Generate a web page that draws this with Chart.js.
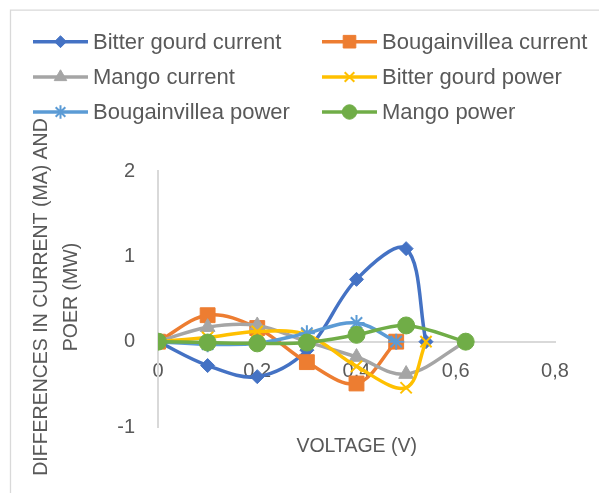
<!DOCTYPE html>
<html>
<head>
<meta charset="utf-8">
<script src="https://cdn.jsdelivr.net/npm/chart.js@4/dist/chart.umd.min.js"></script>
<style>
  html, body { margin: 0; padding: 0; background: #ffffff; }
  #wrap { position: relative; width: 599px; height: 493px; }
</style>
</head>
<body>
<div id="wrap"><canvas id="c" width="599" height="493"></canvas></div>
<script>
// ---- data ----
const seriesNames = ['Bitter gourd current', 'Bougainvillea current', 'Mango current',
                     'Bitter gourd power', 'Bougainvillea power', 'Mango power'];
const voltsBitterGourd   = [0, 0.1, 0.2, 0.3, 0.4, 0.5, 0.54];
const voltsBougainvillea = [0, 0.1, 0.2, 0.3, 0.4, 0.48];
const voltsMango         = [0, 0.1, 0.2, 0.3, 0.4, 0.5, 0.62];

const bitterGourdCurrent   = [0, -0.28, -0.41, -0.1, 0.73, 1.09, 0];
const bougainvilleaCurrent = [0, 0.31, 0.16, -0.24, -0.49, 0];
const mangoCurrent         = [0, 0.17, 0.19, 0, -0.18, -0.38, 0];
const bitterGourdPower     = [0, 0.05, 0.12, 0.08, -0.29, -0.54, 0];
const bougainvilleaPower   = [0, -0.03, -0.02, 0.1, 0.22, 0];
const mangoPower           = [0, -0.01, -0.02, -0.01, 0.08, 0.19, 0];

const xTickValues = [0, 0.2, 0.4, 0.6, 0.8];
const xTickLabels = ['0', '0,2', '0,4', '0,6', '0,8'];
const yTickValues = [-1, 0, 1, 2];
const yTickLabels = ['-1', '0', '1', '2'];

const xTitle = 'VOLTAGE (V)';
const yTitleLines = ['DIFFERENCES IN CURRENT (MA) AND', 'POER (MW)'];

// ---- styling ----
const colors = ['#4472C4', '#ED7D31', '#A5A5A5', '#FFC000', '#5B9BD5', '#70AD47'];
const markers = ['rectRot', 'rect', 'triangle', 'crossRot', 'star', 'circle'];
const markerRadius = [7, 10.5, 8.5, 8, 8, 8.5];
const FONT = '"Liberation Sans", Arial, sans-serif';
const TEXT = '#595959';
const AXIS = '#D9D9D9';

function pts(xs, ys) { return xs.map((x, i) => ({ x: x, y: ys[i] })); }
const seriesData = [
  pts(voltsBitterGourd, bitterGourdCurrent),
  pts(voltsBougainvillea, bougainvilleaCurrent),
  pts(voltsMango, mangoCurrent),
  pts(voltsBitterGourd, bitterGourdPower),
  pts(voltsBougainvillea, bougainvilleaPower),
  pts(voltsMango, mangoPower)
];

const datasets = seriesData.map((d, i) => ({
  label: seriesNames[i],
  data: d,
  showLine: true,
  tension: 0.35,
  borderColor: colors[i],
  backgroundColor: colors[i],
  borderWidth: 3.5,
  pointStyle: markers[i],
  pointRadius: markerRadius[i],
  pointHoverRadius: markerRadius[i],
  pointBackgroundColor: colors[i],
  pointBorderColor: colors[i],
  pointBorderWidth: (markers[i] === 'crossRot' || markers[i] === 'star') ? 2 : 1,
  order: seriesNames.length - i
}));

// custom legend, titles and frame
const decor = {
  id: 'decor',
  afterDraw(chart) {
    const ctx = chart.ctx;
    ctx.save();
    // outer frame (top + left visible)
    ctx.strokeStyle = AXIS;
    ctx.lineWidth = 1.3;
    ctx.beginPath();
    ctx.moveTo(10.5, 600);
    ctx.lineTo(10.5, 10.2);
    ctx.lineTo(700, 10.2);
    ctx.stroke();

    // legend
    const colX = [33, 322];
    const rowY = [41.7, 77, 112];
    ctx.font = '22px ' + FONT;
    ctx.textBaseline = 'middle';
    ctx.textAlign = 'left';
    chart.data.datasets.forEach((ds, i) => {
      const x0 = colX[i % 2];
      const y0 = rowY[Math.floor(i / 2)];
      ctx.strokeStyle = ds.borderColor;
      ctx.lineWidth = 3.5;
      ctx.lineCap = 'butt';
      ctx.beginPath();
      ctx.moveTo(x0, y0);
      ctx.lineTo(x0 + 55, y0);
      ctx.stroke();
      ctx.fillStyle = ds.pointBackgroundColor;
      ctx.strokeStyle = ds.pointBorderColor;
      ctx.lineWidth = ds.pointBorderWidth;
      Chart.helpers.drawPoint(ctx, {
        pointStyle: ds.pointStyle,
        radius: ds.pointRadius * 0.85,
        rotation: 0,
        borderWidth: ds.pointBorderWidth
      }, x0 + 27.5, y0);
      ctx.fillStyle = TEXT;
      ctx.fillText(ds.label, x0 + 60, y0 + 1);
    });

    // axis titles
    ctx.fillStyle = TEXT;
    ctx.font = '19.5px ' + FONT;
    ctx.textAlign = 'center';
    ctx.textBaseline = 'middle';
    ctx.fillText(xTitle, 356.7, 447);
    ctx.save();
    ctx.translate(41.7, 297);
    ctx.rotate(-Math.PI / 2);
    ctx.fillText(yTitleLines[0], 0, 0);
    ctx.fillText(yTitleLines[1], 0, 30);
    ctx.restore();
    ctx.restore();
  }
};

new Chart(document.getElementById('c'), {
  type: 'scatter',
  data: { datasets: datasets },
  options: {
    responsive: false,
    animation: false,
    events: [],
    layout: { padding: { top: 171, bottom: 66, left: 0, right: 44 } },
    plugins: { legend: { display: false }, tooltip: { enabled: false }, title: { display: false } },
    scales: {
      x: {
        type: 'linear',
        min: 0, max: 0.8,
        position: { y: 0 },
        afterBuildTicks: (s) => { s.ticks = xTickValues.map(v => ({ value: v })); },
        ticks: {
          callback: (v) => { const k = xTickValues.indexOf(v); return k >= 0 ? xTickLabels[k] : ''; },
          color: TEXT,
          font: { family: FONT, size: 20 },
          padding: 18,
          maxRotation: 0,
          autoSkip: false
        },
        grid: { display: false, drawTicks: false },
        border: { display: true, color: AXIS, width: 2 }
      },
      y: {
        type: 'linear',
        min: -1, max: 2,
        position: 'left',
        afterFit: (s) => { s.width = 158; },
        afterBuildTicks: (s) => { s.ticks = yTickValues.map(v => ({ value: v })); },
        ticks: {
          callback: (v) => { const k = yTickValues.indexOf(v); return k >= 0 ? yTickLabels[k] : ''; },
          color: TEXT,
          font: { family: FONT, size: 20 },
          padding: 23,
          autoSkip: false
        },
        grid: { display: false, drawTicks: false },
        border: { display: true, color: AXIS, width: 2 }
      }
    }
  },
  plugins: [decor]
});
</script>
</body>
</html>
